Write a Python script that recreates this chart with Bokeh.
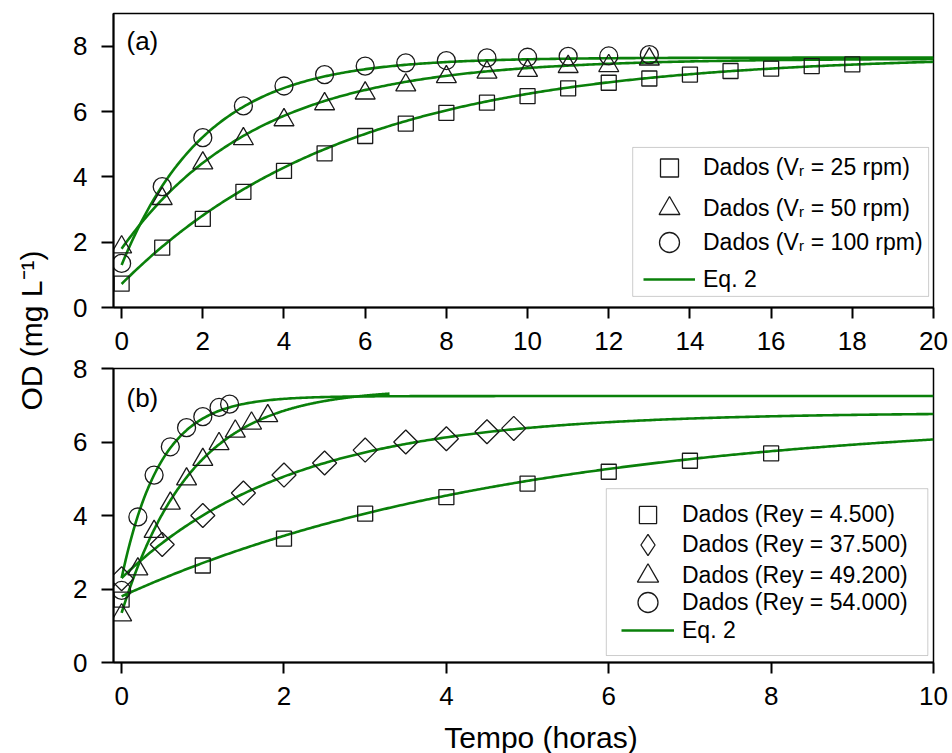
import math
import numpy as np
from bokeh.plotting import figure
from bokeh.layouts import row, column
from bokeh.models import Label, Legend, LegendItem, Range1d, BoxAnnotation
from bokeh.embed import file_html
from bokeh.resources import INLINE

FONT = "Liberation Sans"
GREEN = "#0a800a"
MK = "#1a1a1a"

# ---------------- panel (a): OD vs time for rotor speeds ----------------
t_a25 = [0, 1, 2, 3, 4, 5, 6, 7, 8, 9, 10, 11, 12, 13, 14, 15, 16, 17, 18]
od_a25 = [0.73, 1.83, 2.71, 3.54, 4.18, 4.72, 5.25, 5.63, 5.96, 6.27, 6.47,
          6.71, 6.88, 7.01, 7.13, 7.24, 7.31, 7.39, 7.44]
t_a50 = [0, 1, 2, 3, 4, 5, 6, 7, 8, 9, 10, 11, 12, 13]
od_a50 = [1.85, 3.33, 4.42, 5.16, 5.74, 6.23, 6.56, 6.81, 7.06, 7.20, 7.25,
          7.37, 7.40, 7.60]
t_a100 = [0, 1, 2, 3, 4, 5, 6, 7, 8, 9, 10, 11, 12, 13]
od_a100 = [1.35, 3.70, 5.20, 6.17, 6.78, 7.13, 7.39, 7.49, 7.56, 7.64, 7.66,
           7.69, 7.70, 7.74]
labels_a = ["Dados (V\u1d63 = 25 rpm)", "Dados (V\u1d63 = 50 rpm)",
            "Dados (V\u1d63 = 100 rpm)", "Eq. 2"]
# Eq. 2 fitted curves, OD = Cs - (Cs - C0) * exp(-k t), parameters
fit_a_cs = [7.72, 7.62, 7.65]
fit_a_c0 = [0.72, 1.80, 1.30]
fit_a_k = [0.178, 0.30, 0.48]
fit_a_tmax = [20, 20, 20]

# ---------------- panel (b): OD vs time for Reynolds numbers ----------------
t_b4500 = [0, 1, 2, 3, 4, 5, 6, 7, 8]
od_b4500 = [1.71, 2.64, 3.37, 4.05, 4.50, 4.87, 5.19, 5.49, 5.69]
t_b37500 = [0, 0.5, 1, 1.5, 2, 2.5, 3, 3.5, 4, 4.5, 4.83]
od_b37500 = [2.28, 3.21, 4.00, 4.61, 5.10, 5.43, 5.78, 6.00, 6.09, 6.28, 6.37]
t_b49200 = [0, 0.2, 0.4, 0.6, 0.8, 1.0, 1.2, 1.4, 1.6, 1.8]
od_b49200 = [1.29, 2.54, 3.56, 4.33, 4.99, 5.52, 5.95, 6.29, 6.51, 6.71]
t_b54000 = [0, 0.2, 0.4, 0.6, 0.8, 1.0, 1.2, 1.33]
od_b54000 = [1.96, 3.96, 5.10, 5.87, 6.39, 6.69, 6.94, 7.03]
labels_b = ["Dados (Rey = 4.500)", "Dados (Rey = 37.500)", "Dados (Rey = 49.200)",
            "Dados (Rey = 54.000)", "Eq. 2"]
fit_b_cs = [6.70, 6.80, 7.45, 7.25]
fit_b_c0 = [1.80, 2.30, 1.35, 2.30]
fit_b_k = [0.205, 0.475, 1.16, 2.09]
fit_b_tmax = [10, 10, 3.3, 10]

x_title = "Tempo (horas)"
y_title = "OD (mg L\u207b\u00b9)"


def eq2(cs, c0, k, tmax):
    t = np.linspace(0, tmax, 400)
    return t, cs - (cs - c0) * np.exp(-k * t)


def style(p, xticks, yticks):
    p.xgrid.visible = False
    p.ygrid.visible = False
    p.outline_line_color = "black"
    p.outline_line_width = 1.5
    p.background_fill_color = "white"
    p.border_fill_color = "white"
    for ax in (p.xaxis[0], p.yaxis[0]):
        ax.axis_line_width = 2
        ax.axis_line_color = "black"
        ax.major_tick_line_width = 2
        ax.major_tick_line_color = "black"
        ax.major_tick_in = 0
        ax.minor_tick_line_color = None
        ax.major_label_text_font = FONT
        ax.major_label_text_font_size = "26px"
        ax.major_label_text_color = "black"
    p.xaxis[0].ticker = xticks
    p.yaxis[0].ticker = yticks
    p.xaxis[0].major_tick_out = 11
    p.yaxis[0].major_tick_out = 12
    p.xaxis[0].major_label_standoff = 13
    p.yaxis[0].major_label_standoff = 14


def marker_kw(size):
    return dict(size=size, fill_color=None, line_color=MK, line_width=1.3)


def item_legend(label, rend, loc, gw, gh):
    return Legend(items=[LegendItem(label=label, renderers=[rend])],
                  location=loc, glyph_width=gw, glyph_height=gh, label_height=gh,
                  spacing=0, padding=0, margin=0, label_standoff=8,
                  label_text_font=FONT, label_text_font_size="23px",
                  label_text_color="black", border_line_color=None,
                  background_fill_alpha=0)


def blank_fig(w, h):
    f = figure(width=w, height=h, x_range=Range1d(0, w), y_range=Range1d(0, h),
               toolbar_location=None, output_backend="svg", min_border=0,
               min_border_left=0, min_border_right=0, min_border_top=0, min_border_bottom=0,
               x_axis_location=None, y_axis_location=None)
    f.outline_line_color = None
    f.xgrid.visible = False
    f.ygrid.visible = False
    return f


# ---------------- figure (a) ----------------
pa = figure(width=894, height=355, x_range=Range1d(-0.2, 20), y_range=Range1d(0, 9),
            toolbar_location=None, output_backend="svg",
            min_border_left=55, min_border_right=19, min_border_top=13, min_border_bottom=48)
style(pa, list(range(0, 21, 2)), [0, 2, 4, 6, 8])

fits_a = []
for cs, c0, k, tm in zip(fit_a_cs, fit_a_c0, fit_a_k, fit_a_tmax):
    tt, yy = eq2(cs, c0, k, tm)
    fits_a.append(pa.line(tt, yy, line_color=GREEN, line_width=2.6))
ra1 = pa.scatter(t_a25, od_a25, marker="square", **marker_kw(15))
ra2 = pa.scatter(t_a50, od_a50, marker="triangle", **marker_kw(20))
ra3 = pa.scatter(t_a100, od_a100, marker="circle", **marker_kw(18))

pa.add_layout(BoxAnnotation(left=12.59, right=19.88, bottom=0.34, top=4.90,
                            fill_color="white", fill_alpha=1,
                            line_color="#555555", line_width=1))
pa.add_layout(item_legend(labels_a[0], ra1, (530, 117), 52, 45), "center")
pa.add_layout(item_legend(labels_a[1], ra2, (530, 73), 52, 52), "center")
pa.add_layout(item_legend(labels_a[2], ra3, (530, 40), 52, 50), "center")
pa.add_layout(item_legend(labels_a[3], fits_a[0], (530, 8), 52, 40), "center")
pa.add_layout(Label(x=0.12, y=8.15, text="(a)", text_font=FONT, text_font_size="26px",
                    text_align="left", text_baseline="middle", text_color="black"))

# ---------------- figure (b) ----------------
pb = figure(width=894, height=365, x_range=Range1d(-0.1, 10), y_range=Range1d(0, 8),
            toolbar_location=None, output_backend="svg",
            min_border_left=55, min_border_right=19, min_border_top=13, min_border_bottom=58)
style(pb, list(range(0, 11, 2)), [0, 2, 4, 6, 8])

fits_b = []
for cs, c0, k, tm in zip(fit_b_cs, fit_b_c0, fit_b_k, fit_b_tmax):
    tt, yy = eq2(cs, c0, k, tm)
    fits_b.append(pb.line(tt, yy, line_color=GREEN, line_width=2.6))
rb1 = pb.scatter(t_b4500, od_b4500, marker="square", **marker_kw(15))
rb2 = pb.scatter(t_b37500, od_b37500, marker="square", angle=math.pi / 4, **marker_kw(17))
rb3 = pb.scatter(t_b49200, od_b49200, marker="triangle", **marker_kw(20))
rb4 = pb.scatter(t_b54000, od_b54000, marker="circle", **marker_kw(18))
# zero-size diamond renderer on the same data, only so the legend shows a diamond
rb2_leg = pb.scatter(t_b37500, od_b37500, marker="diamond", size=0,
                     fill_color=None, line_color=MK, line_width=1.3)

pb.add_layout(BoxAnnotation(left=5.97, right=9.93, bottom=0.19, top=4.73,
                            fill_color="white", fill_alpha=1,
                            line_color="#555555", line_width=1))
pb.add_layout(item_legend(labels_b[0], rb1, (508, 126), 53, 43), "center")
pb.add_layout(item_legend(labels_b[1], rb2_leg, (508, 91), 53, 53), "center")
pb.add_layout(item_legend(labels_b[2], rb3, (508, 59), 53, 55), "center")
pb.add_layout(item_legend(labels_b[3], rb4, (508, 35), 53, 50), "center")
pb.add_layout(item_legend(labels_b[4], fits_b[0], (508, 12), 53, 40), "center")
pb.add_layout(Label(x=0.06, y=7.19, text="(b)", text_font=FONT, text_font_size="26px",
                    text_align="left", text_baseline="middle", text_color="black"))

# ---------------- shared x-axis title strip ----------------
tfig = blank_fig(894, 33)
tfig.add_layout(Label(x=466, y=16.5, text=x_title, text_font=FONT, text_font_size="30px",
                      text_align="center", text_baseline="middle", text_color="black"))

# ---------------- shared y-axis title strip ----------------
lab = blank_fig(58, 753)
lab.add_layout(Label(x=31, y=423, text=y_title, angle=math.pi / 2,
                     text_align="center", text_baseline="middle", text_font=FONT,
                     text_font_size="30px", text_color="black"))

layout = row(lab, column(pa, pb, tfig, spacing=0), spacing=0)
open("out.html", "w").write(file_html(layout, INLINE))
